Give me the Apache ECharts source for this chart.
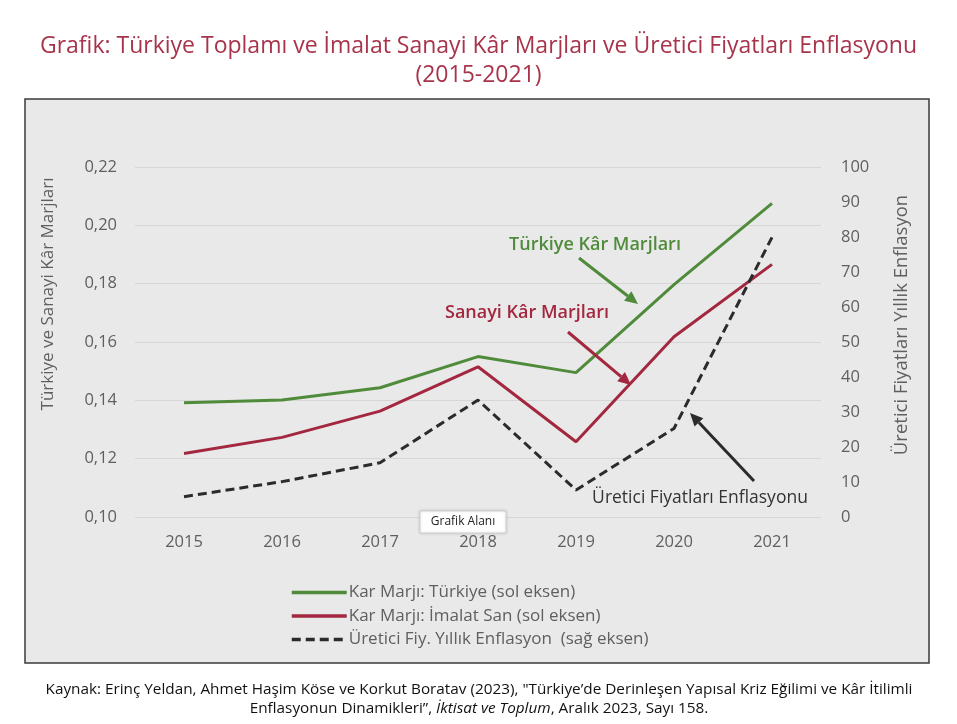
<!DOCTYPE html>
<html><head><meta charset="utf-8">
<script src="https://cdn.jsdelivr.net/npm/echarts@6/dist/echarts.min.js"></script>
<style>html,body{margin:0;padding:0;background:#fff}#c{width:957px;height:724px}</style>
</head><body><div id="c"></div>
<script>
const years = ['2015','2016','2017','2018','2019','2020','2021'];
const turkiye = [0.1392, 0.1401, 0.1443, 0.1550, 0.1495, 0.1797, 0.2075];
const imalat = [0.1218, 0.1273, 0.1363, 0.1515, 0.1258, 0.1618, 0.1866];
const enflasyon = [5.8, 10.1, 15.5, 33.4, 7.7, 25.3, 79.9];
const leftTicks = [0.10, 0.12, 0.14, 0.16, 0.18, 0.20, 0.22];
const rightTicks = [0, 10, 20, 30, 40, 50, 60, 70, 80, 90, 100];

const F = '"Open Sans", Lato, sans-serif';
const GRAY = '#5f5f5f';
const GREEN = '#4f8b3b', RED = '#a3283f', BLACK = '#2b2b2b';

const chart = echarts.init(document.getElementById('c'), null, {renderer:'canvas'});

function arrow(x1,y1,x2,y2,color){
  const ang = Math.atan2(y2-y1,x2-x1), L=13, W=6;
  const bx = x2 - L*Math.cos(ang), by = y2 - L*Math.sin(ang);
  const px = -Math.sin(ang)*W, py = Math.cos(ang)*W;
  return [
    {type:'line', shape:{x1:x1,y1:y1,x2:bx,y2:by}, style:{stroke:color,lineWidth:3}, z:10},
    {type:'polygon', shape:{points:[[x2,y2],[bx+px,by+py],[bx-px,by-py]]}, style:{fill:color}, z:10}
  ];
}

chart.setOption({
  backgroundColor:'#ffffff',
  animation:false,
  title:{
    text:'Grafik: Türkiye Toplamı ve İmalat Sanayi Kâr Marjları ve Üretici Fiyatları Enflasyonu\n(2015-2021)',
    left:'center', top:27,
    textStyle:{color:'#a8344c', fontSize:23, fontWeight:'normal', fontFamily:F, lineHeight:29}
  },
  grid:{left:135, right:136, top:167, bottom:207},
  legend:{
    orient:'vertical', left:285, top:579, itemWidth:55, itemHeight:15, itemGap:6.5,
    itemStyle:{opacity:0},
    lineStyle:{width:3.5},
    textStyle:{color:GRAY, fontSize:17, fontFamily:F, lineHeight:15, padding:[0,0,0,-3]},
    data:[
      {name:'Kar Marjı: Türkiye (sol eksen)'},
      {name:'Kar Marjı: İmalat San (sol eksen)'},
      {name:'Üretici Fiy. Yıllık Enflasyon  (sağ eksen)'}
    ]
  },
  xAxis:{
    type:'category', data:years, boundaryGap:true,
    axisLine:{show:false}, axisTick:{show:false},
    axisLabel:{color:GRAY, fontSize:16.5, fontFamily:F, margin:17}
  },
  yAxis:[{
    type:'value', min:leftTicks[0], max:leftTicks[leftTicks.length-1], interval:0.02,
    position:'left',
    axisLine:{show:false}, axisTick:{show:false},
    axisLabel:{color:GRAY, fontSize:16.5, fontFamily:F, margin:18, formatter:v=>v.toFixed(2).replace('.',',')},
    splitLine:{lineStyle:{color:'#d6d6d6', width:1}}
  },{
    type:'value', min:rightTicks[0], max:rightTicks[rightTicks.length-1], interval:10,
    position:'right',
    axisLine:{show:false}, axisTick:{show:false},
    axisLabel:{color:GRAY, fontSize:16.5, fontFamily:F, margin:20},
    splitLine:{show:false}
  }],
  series:[
    {name:'Kar Marjı: Türkiye (sol eksen)', type:'line', yAxisIndex:0, data:turkiye, symbol:'none',
     lineStyle:{color:GREEN, width:3}, itemStyle:{color:GREEN}, z:3},
    {name:'Kar Marjı: İmalat San (sol eksen)', type:'line', yAxisIndex:0, data:imalat, symbol:'none',
     lineStyle:{color:RED, width:3}, itemStyle:{color:RED}, z:4},
    {name:'Üretici Fiy. Yıllık Enflasyon  (sağ eksen)', type:'line', yAxisIndex:1, data:enflasyon, symbol:'none',
     lineStyle:{color:BLACK, width:3, type:[9,5]}, itemStyle:{color:BLACK}, z:5}
  ],
  graphic:[
    {type:'rect', shape:{x:25, y:99, width:904, height:564}, style:{fill:'#e9e9e9', stroke:'#3a3a3a', lineWidth:1.5}, z:-10, silent:true},
    {type:'text', x:48, y:294, rotation:Math.PI/2, style:{text:'Türkiye ve Sanayi Kâr Marjları', fill:GRAY, font:'17px '+F, textAlign:'center', textVerticalAlign:'middle'}},
    {type:'text', x:902, y:325, rotation:Math.PI/2, style:{text:'Üretici Fiyatları Yıllık Enflasyon', fill:GRAY, font:'18.5px '+F, textAlign:'center', textVerticalAlign:'middle'}},
    {type:'text', x:595, y:245, style:{text:'Türkiye Kâr Marjları', fill:GREEN, font:'600 18px '+F, textAlign:'center', textVerticalAlign:'middle'}, z:10},
    ...arrow(579,258,638,304,GREEN),
    {type:'text', x:527, y:313, style:{text:'Sanayi Kâr Marjları', fill:RED, font:'600 18px '+F, textAlign:'center', textVerticalAlign:'middle'}, z:10},
    ...arrow(568,332,631,385,RED),
    {type:'text', x:700, y:498, style:{text:'Üretici Fiyatları Enflasyonu', fill:'#333', font:'17.5px '+F, textAlign:'center', textVerticalAlign:'middle'}, z:10},
    ...arrow(754,481,690,413,BLACK),
    {type:'rect', shape:{x:420, y:511, width:86, height:22}, style:{fill:'#ffffff', stroke:'#cfcfcf', lineWidth:1, shadowBlur:3, shadowColor:'rgba(0,0,0,0.15)'}, z:20},
    {type:'text', x:463, y:522, style:{text:'Grafik Alanı', fill:'#222', font:'12px '+F, textAlign:'center', textVerticalAlign:'middle'}, z:21},
    {type:'text', x:479, y:690, style:{
      text:'Kaynak: Erinç Yeldan, Ahmet Haşim Köse ve Korkut Boratav (2023), "Türkiye\u2019de Derinleşen Yapısal Kriz Eğilimi ve Kâr İtilimli',
      fill:'#111', font:'15.3px '+F, textAlign:'center', textVerticalAlign:'middle'}},
    {type:'text', x:479, y:709, style:{
      text:'{n|Enflasyonun Dinamikleri\u201d, }{i|İktisat ve Toplum}{n|, Aralık 2023, Sayı 158.}',
      textAlign:'center', textVerticalAlign:'middle',
      rich:{n:{fill:'#111', fontSize:15.3, fontFamily:F}, i:{fill:'#111', fontSize:15.3, fontFamily:F, fontStyle:'italic'}}}}
  ]
});
</script></body></html>
